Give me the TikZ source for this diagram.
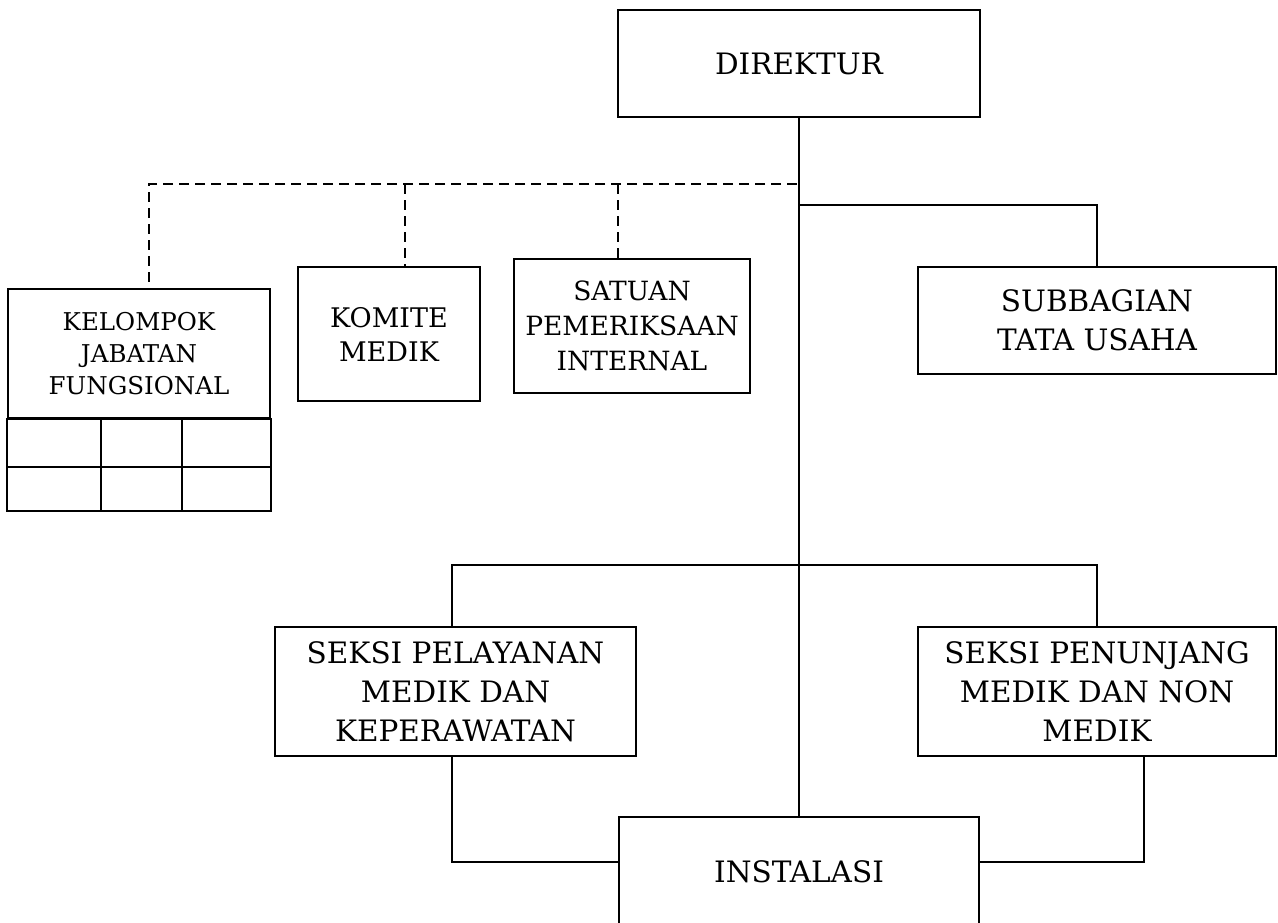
\documentclass[tikz,border=0pt]{standalone}
\usepackage{fontspec}
\setmainfont{DejaVu Serif}
\begin{document}
\begin{tikzpicture}[x=1pt,y=-1pt,
  box/.style={draw,line width=1.8pt,inner sep=0pt,align=center,font=\fontsize{29.5}{39}\selectfont},
  conn/.style={line width=1.8pt},
  dashline/.style={line width=1.8pt,dash pattern=on 10pt off 6pt}]
\clip (0,0) rectangle (1278,922);
\fill[white] (0,0) rectangle (1278,922);
% nodes
\node[box,minimum width=362pt,minimum height=107pt] (dir) at (799,63.5) {DIREKTUR};
\node[box,minimum width=262pt,minimum height=129pt,font=\fontsize{24.5}{32}\selectfont] (kjf) at (139,353.5) {KELOMPOK\\JABATAN\\FUNGSIONAL};
\node[box,minimum width=182pt,minimum height=134pt,font=\fontsize{27}{34}\selectfont] (kom) at (389,334) {KOMITE\\MEDIK};
\node[box,minimum width=236pt,minimum height=134pt,font=\fontsize{26.5}{35}\selectfont] (sat) at (632,326) {SATUAN\\PEMERIKSAAN\\INTERNAL};
\node[box,minimum width=358pt,minimum height=107pt] (sub) at (1097,320.5) {SUBBAGIAN\\TATA USAHA};
\node[box,minimum width=361pt,minimum height=129pt] (pel) at (455.5,691.5) {SEKSI PELAYANAN\\MEDIK DAN\\KEPERAWATAN};
\node[box,minimum width=358pt,minimum height=129pt] (pen) at (1097,691.5) {SEKSI PENUNJANG\\MEDIK DAN NON\\MEDIK};
\node[box,minimum width=360pt,minimum height=110pt] (inst) at (799,872) {INSTALASI};
% grid under kelompok
\draw[conn] (kjf.south west) rectangle ([yshift=-92pt]kjf.south east);
\draw[conn] ([yshift=-48pt]kjf.south west) -- ([yshift=-48pt]kjf.south east);
\draw[conn] ([xshift=94pt]kjf.south west) -- ([xshift=94pt,yshift=-92pt]kjf.south west);
\draw[conn] ([xshift=175pt]kjf.south west) -- ([xshift=175pt,yshift=-92pt]kjf.south west);
% coordinates
\coordinate (d0) at (797,184);
\coordinate (j1) at (800,205);
\coordinate (j2) at (800,565);
% solid connectors
\draw[conn] (dir.south) -- (inst.north);
\draw[conn] (j1) -| (sub.north);
\draw[conn] ([xshift=-3.5pt]pel.north) |- (j2) -| (pen.north);
\draw[conn] ([xshift=-3.5pt]pel.south) |- ([yshift=10pt]inst.west);
\draw[conn] ([xshift=47pt]pen.south) |- ([yshift=10pt]inst.east);
% dashed connectors
\draw[dashline] (d0) -| ([xshift=10pt]kjf.north);
\draw[dashline] ([xshift=16pt]kom.north |- d0) -- ([xshift=16pt]kom.north);
\draw[dashline] ([xshift=-14pt]sat.north |- d0) -- ([xshift=-14pt]sat.north);
\end{tikzpicture}
\end{document}
